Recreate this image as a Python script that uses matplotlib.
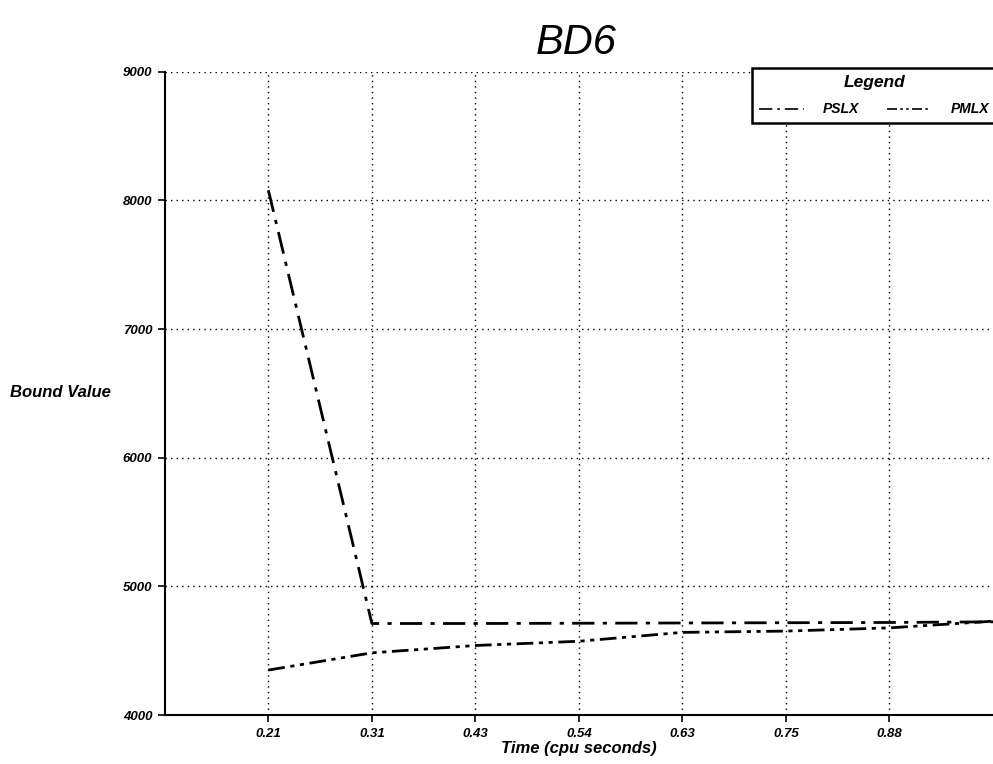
import matplotlib
matplotlib.use('Agg')
import matplotlib.pyplot as plt

# time labels (cpu seconds); last point has no label in the original
time_labels = ['0.21', '0.31', '0.43', '0.54', '0.63', '0.75', '0.88']
pslx = [8080, 4712, 4712, 4714, 4716, 4718, 4720, 4725]
pmlx = [4350, 4484, 4541, 4574, 4643, 4653, 4678, 4730]

plt.rcParams['font.family'] = ['Liberation Sans', 'DejaVu Sans']

fig = plt.figure(figsize=(9.93, 7.64), dpi=100)
ax = fig.add_axes([0.166, 0.064, 0.834, 0.842])

x = list(range(len(pslx)))
ax.plot(x, pslx, color='black', lw=2.0, linestyle=(0, (8, 3, 1.5, 3)), label='PSLX')
ax.plot(x, pmlx, color='black', lw=2.0, linestyle=(0, (6, 2, 1.5, 2, 1.5, 2)), label='PMLX')

ax.set_xlim(-1, 7)
ax.set_ylim(4000, 9000)
ax.set_xticks(range(len(time_labels)))
ax.set_xticklabels(time_labels)
ax.set_yticks([4000, 5000, 6000, 7000, 8000, 9000])

for lab in ax.get_xticklabels() + ax.get_yticklabels():
    lab.set_fontsize(9.5)
    lab.set_fontweight('bold')
    lab.set_fontstyle('italic')

ax.grid(True, linestyle=(0, (1, 3)), color='black', lw=1.0)
ax.spines['top'].set_visible(False)
ax.spines['right'].set_visible(False)
ax.spines['left'].set_linewidth(1.5)
ax.spines['bottom'].set_linewidth(1.5)
ax.tick_params(direction='out', length=5, width=1.2, pad=4)

fig.text(0.58, 0.944, 'BD6', fontsize=30, style='italic', ha='center', va='center')
fig.text(0.01, 0.486, 'Bound Value', fontsize=12, weight='bold', style='italic',
         ha='left', va='center')
ax.set_xlabel('Time (cpu seconds)', fontsize=12, weight='bold', style='italic', labelpad=1)

leg = ax.legend(ncol=2, title='Legend', loc='upper right', bbox_to_anchor=(1.004, 1.006),
                frameon=True, fancybox=False, handlelength=3.2, handletextpad=1.4,
                columnspacing=2.0, borderpad=0.5, labelspacing=0.9, borderaxespad=0,
                prop={'size': 10, 'weight': 'bold', 'style': 'italic'},
                title_fontproperties={'size': 12.5, 'weight': 'bold', 'style': 'italic'})
leg.get_frame().set_edgecolor('black')
leg.get_frame().set_linewidth(1.8)
leg.get_frame().set_alpha(1)
for h in leg.get_lines():
    h.set_linewidth(1.2)

fig.savefig('out.png', dpi=100)
